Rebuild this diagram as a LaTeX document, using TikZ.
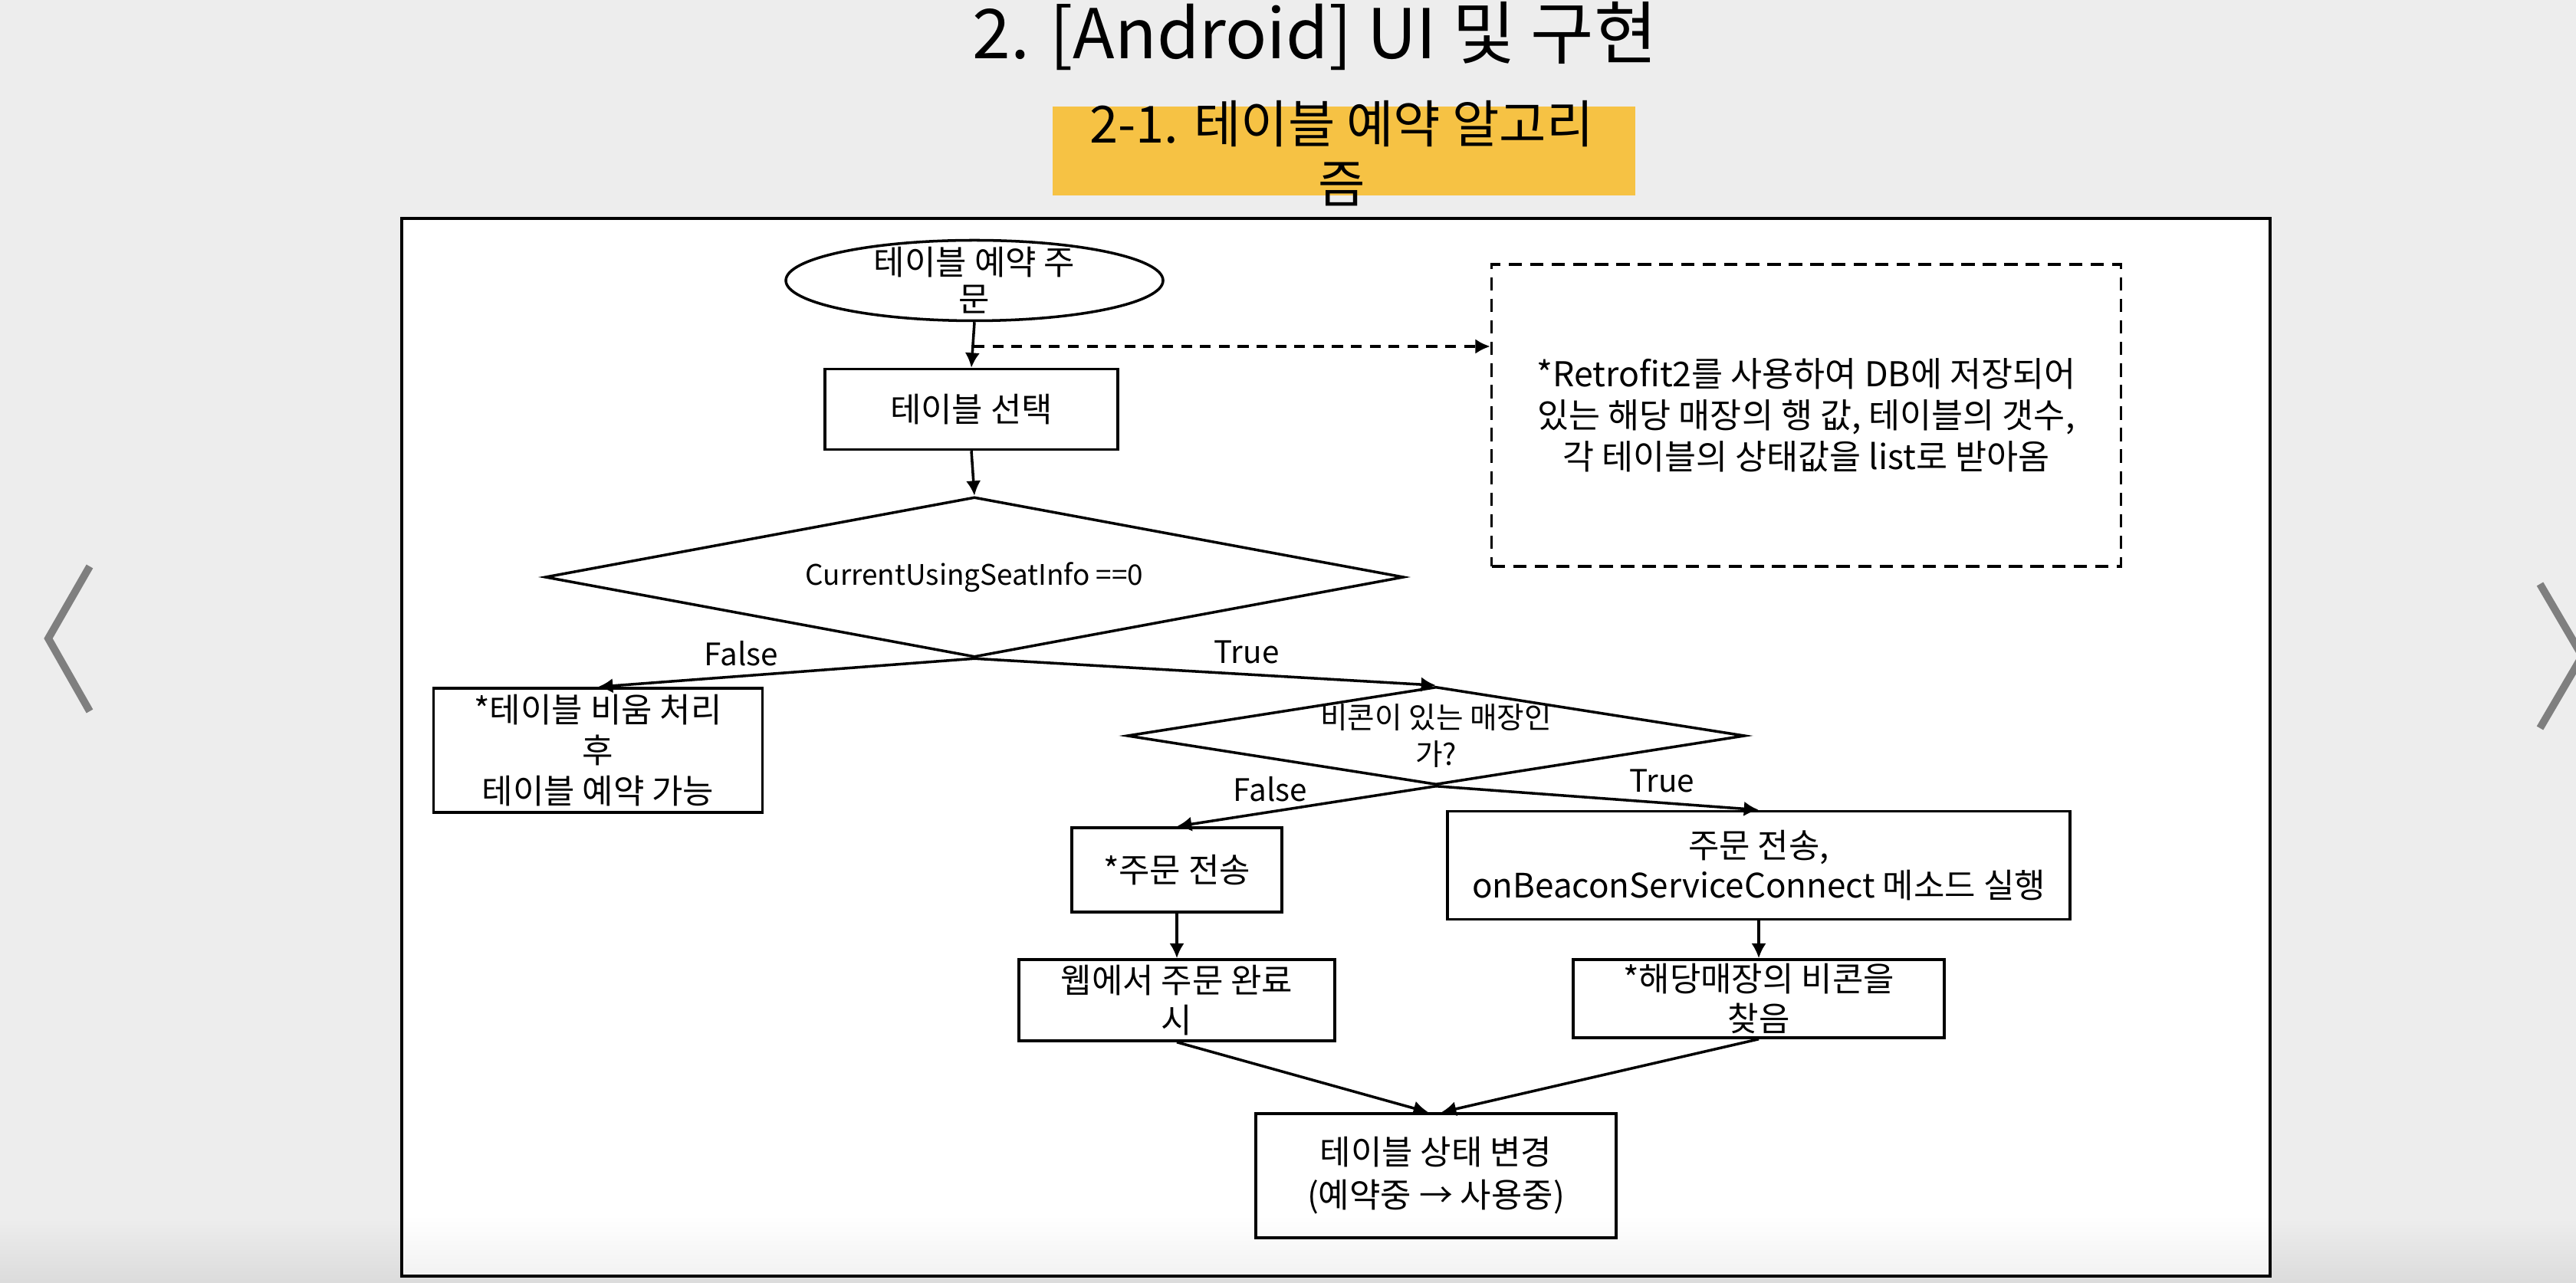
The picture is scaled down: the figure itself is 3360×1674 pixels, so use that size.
\documentclass[tikz,border=0pt]{standalone}
\usepackage{fontspec}
\setmainfont{Noto Sans CJK KR}
\usepackage{tikz}
\usetikzlibrary{arrows.meta,shapes.geometric}

\definecolor{slidebg}{HTML}{EDEDED}
\definecolor{headyellow}{HTML}{F6C244}
\definecolor{navgray}{HTML}{7F7F7F}

\begin{document}
\begin{tikzpicture}[x=0.1mm,y=-0.1mm,>={Latex[length=5.5pt,width=5.5pt]},line width=1pt,
    box/.style={draw,rectangle,inner sep=0pt,align=center,
                font=\fontsize{12.5}{15}\selectfont},
    decision/.style={draw,diamond,inner sep=0pt,align=center},
    branch/.style={font=\fontsize{11.5}{13}\selectfont},
    dashline/.style={->,dash pattern=on 4pt off 3pt}]

  \useasboundingbox (0,0) rectangle (3360,1674);
  \clip (0,0) rectangle (3360,1674);

  % slide
  \fill[slidebg] (0,0) rectangle (3360,1674);
  \shade[top color=slidebg,bottom color=black!14] (0,1590) rectangle (3360,1674);
  \draw[navgray,line width=2.8pt] (117,739) -- (63,833) -- (117,928);
  \draw[navgray,line width=2.8pt] (3313,762) -- (3368,856) -- (3313,950);

  \node[font=\fontsize{25.5}{30}\selectfont,anchor=base] (title) at (1715,77) {2. [Android] UI 및 구현};
  \fill[headyellow] (1373,139) rectangle (2133,255);
  \node[font=\fontsize{19}{22}\selectfont,align=center,inner sep=0pt] (subtitle) at (1750,200) {2-1. 테이블 예약 알고리\\즘};

  \draw[fill=white,line width=0.9pt] (524,285) rectangle (2961,1665);
  \shade[top color=white,bottom color=black!5] (527,1585) rectangle (2958,1662);

  \node[draw,ellipse,inner xsep=0pt,inner ysep=-6pt,minimum width=49.2mm,minimum height=10.5mm,
        align=center,font=\fontsize{12.5}{13.7}\selectfont] (order) at (1271,366) {테이블 예약 주\\문};
  \node[box,minimum width=38.2mm,minimum height=10.5mm] (pick) at (1267,534) {테이블 선택};
  \node[box,dash pattern=on 5pt off 3pt,minimum width=82.1mm,minimum height=39.4mm,
        font=\fontsize{12.7}{15.4}\selectfont] (note) at (2356,542)
        {*Retrofit2를 사용하여 DB에 저장되어\\있는 해당 매장의 행 값, 테이블의 갯수,\\각 테이블의 상태값을 list로 받아옴};

  \node[decision,shape aspect=5.4,minimum width=112mm,minimum height=20.9mm,
        font=\fontsize{10.5}{12}\selectfont] (seat) at (1271,753) {CurrentUsingSeatInfo ==0};
  \node[box,minimum width=42.9mm,minimum height=16.2mm] (clear) at (780,979) {*테이블 비움 처리\\후\\테이블 예약 가능};
  \node[decision,shape aspect=6.3,inner ysep=-7pt,minimum width=80.6mm,minimum height=12.8mm,
        font=\fontsize{11}{13.7}\selectfont] (beacon) at (1873,960) {비콘이 있는 매장인\\가?};

  \node[box,minimum width=27.4mm,minimum height=11mm] (sendweb) at (1535,1135) {*주문 전송};
  \node[box,minimum width=81.2mm,minimum height=14.1mm] (sendbcn) at (2294,1129) {주문 전송,\\onBeaconServiceConnect 메소드 실행};
  \node[box,minimum width=41.2mm,minimum height=10.6mm] (webdone) at (1535,1305) {웹에서 주문 완료\\시};
  \node[box,minimum width=48.4mm,minimum height=10.2mm] (findbcn) at (2294,1303) {*해당매장의 비콘을\\찾음};
  \node[box,minimum width=47mm,minimum height=16.2mm,font=\fontsize{12.5}{16}\selectfont] (status) at (1873,1534) {테이블 상태 변경\\(예약중 → 사용중)};

  \coordinate (tap) at (1270,452);

  \path[->] (order.south) edge (pick.north)
            (pick.south) edge (seat.north)
            (seat.south) edge node[branch,above,pos=0.62] {False} (clear.north)
                         edge node[branch,above,pos=0.59] {True} (beacon.north)
            (beacon.south) edge node[branch,above,pos=0.64] {False} (sendweb.north)
                           edge node[branch,above,pos=0.7] {True} (sendbcn.north)
            (sendweb.south) edge (webdone.north)
            (sendbcn.south) edge (findbcn.north)
            (webdone.south) edge ([xshift=-1mm]status.north)
            (findbcn.south) edge ([xshift=0.7mm]status.north);
  \draw[dashline] (tap) -- (tap -| note.west);

\end{tikzpicture}
\end{document}
